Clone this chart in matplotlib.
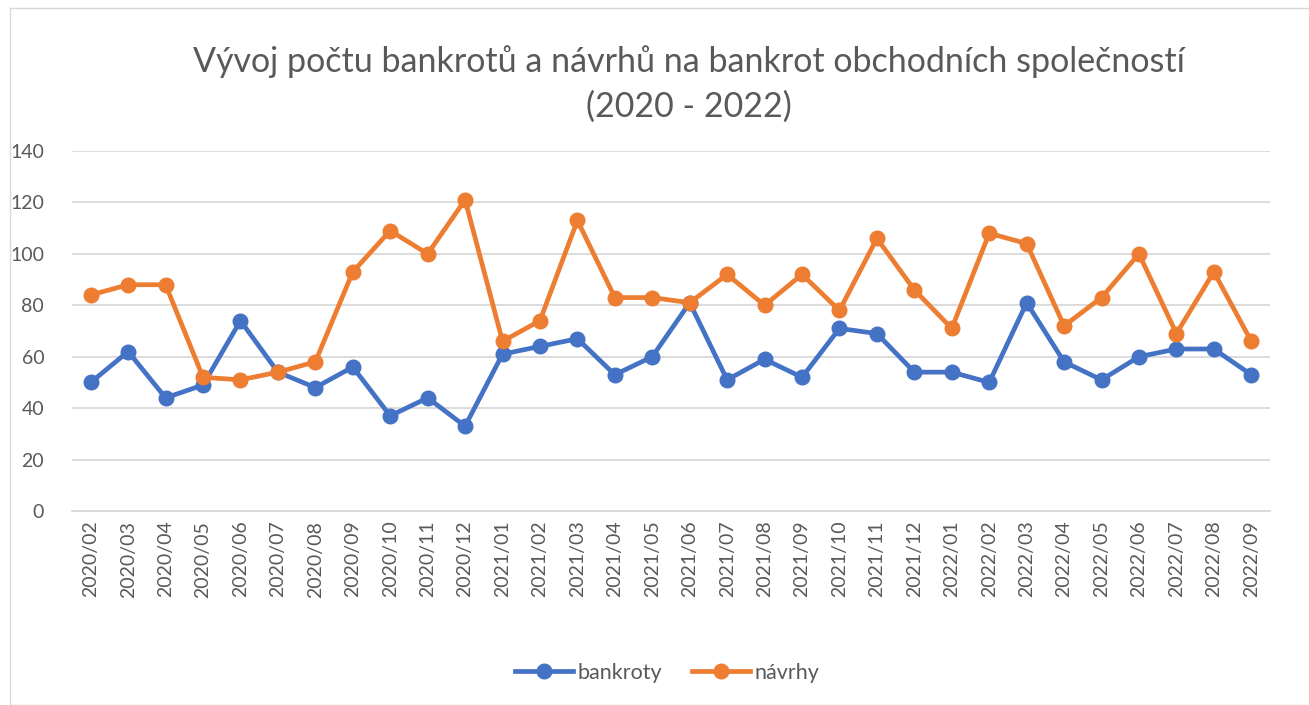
import matplotlib.pyplot as plt
from matplotlib.patches import Rectangle

# ==========================
# Data
# ==========================
months = [
    "2020/02", "2020/03", "2020/04", "2020/05", "2020/06", "2020/07", "2020/08",
    "2020/09", "2020/10", "2020/11", "2020/12",
    "2021/01", "2021/02", "2021/03", "2021/04", "2021/05", "2021/06", "2021/07",
    "2021/08", "2021/09", "2021/10", "2021/11", "2021/12",
    "2022/01", "2022/02", "2022/03", "2022/04", "2022/05", "2022/06", "2022/07",
    "2022/08", "2022/09",
]
bankroty = [50, 62, 44, 49, 74, 54, 48, 56, 37, 44, 33,
            61, 64, 67, 53, 60, 81, 51, 59, 52, 71, 69, 54,
            54, 50, 81, 58, 51, 60, 63, 63, 53]
navrhy = [84, 88, 88, 52, 51, 54, 58, 93, 109, 100, 121,
          66, 74, 113, 83, 83, 81, 92, 80, 92, 78, 106, 86,
          71, 108, 104, 72, 83, 100, 69, 93, 66]
y_ticks = [0, 20, 40, 60, 80, 100, 120, 140]

# ==========================
# Style
# ==========================
plt.rcParams["font.family"] = ["Lato", "DejaVu Sans"]
text_color = "#595959"
blue = "#4472C4"
orange = "#ED7D31"

fig = plt.figure(figsize=(13.09, 7.05), dpi=100)
fig.patches.append(Rectangle((10 / 1309, 0), 1.0, 1 - 8 / 705,
                             transform=fig.transFigure, fill=False,
                             edgecolor="#D9D9D9", linewidth=1))

ax = fig.add_axes([72 / 1309, 1 - 511 / 705, 1198 / 1309, 360 / 705])

x = list(range(len(months)))
ax.plot(x, bankroty, color=blue, linewidth=3.4, marker="o", markersize=10.5,
        label="bankroty", zorder=3)
ax.plot(x, navrhy, color=orange, linewidth=3.4, marker="o", markersize=10.5,
        label="návrhy", zorder=3)

ax.set_xlim(-0.5, len(months) - 0.5)
ax.set_ylim(0, 140)
ax.set_yticks(y_ticks)
ax.set_xticks(x)
ax.set_xticklabels(months, rotation=90)
ax.tick_params(axis="both", length=0, labelsize=14, colors=text_color)
ax.tick_params(axis="y", pad=20)
ax.tick_params(axis="x", pad=7)

ax.grid(axis="y", color="#D9D9D9", linewidth=1.3)
ax.set_axisbelow(True)
for side in ["top", "right", "left"]:
    ax.spines[side].set_visible(False)
ax.spines["bottom"].set_color("#D9D9D9")
ax.spines["bottom"].set_linewidth(1.3)

fig.text(0.526, 1 - 84 / 705,
         "Vývoj počtu bankrotů a návrhů na bankrot obchodních společností\n(2020 - 2022)",
         ha="center", va="center", fontsize=24.5, color=text_color, linespacing=1.45)

fig.legend(loc="center", bbox_to_anchor=(667 / 1309, 1 - 673 / 705), ncol=2,
           frameon=False, fontsize=15.5, labelcolor=text_color,
           handlelength=2.7, handletextpad=0.2, columnspacing=1.4)

plt.savefig("out.png", dpi=100)
